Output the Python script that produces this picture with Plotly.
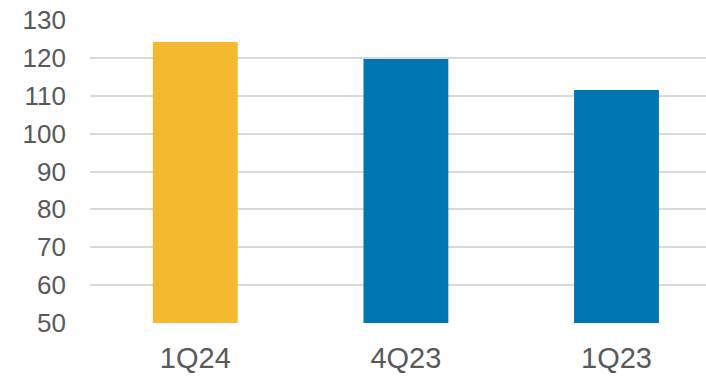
import plotly.graph_objects as go

categories = ["1Q24", "4Q23", "1Q23"]
values = [124.3, 119.8, 111.6]
colors = ["#F5B930", "#0077B3", "#0077B3"]
y_ticks = [50, 60, 70, 80, 90, 100, 110, 120, 130]

fig = go.Figure(go.Bar(x=categories, y=values, marker_color=colors,
                       marker_line_width=0, width=0.403, base=0))

fig.update_layout(
    width=706, height=377,
    margin=dict(l=90, r=0, t=20, b=54),
    paper_bgcolor="white", plot_bgcolor="white",
    showlegend=False,
    font=dict(family="Liberation Sans, Arial", color="#595959"),
)
fig.update_xaxes(range=[-0.5, 2.425], showgrid=False, showline=False,
                 tickfont=dict(size=29, color="#595959"), ticks="",
                 ticklabelstandoff=15)
fig.update_yaxes(range=[49.9, 130.1], tickvals=y_ticks, showgrid=True,
                 gridcolor="#D9D9D9", gridwidth=2, zeroline=False,
                 tickfont=dict(size=26, color="#595959"), ticks="",
                 ticklabelstandoff=23)

fig.write_html("out.html")
